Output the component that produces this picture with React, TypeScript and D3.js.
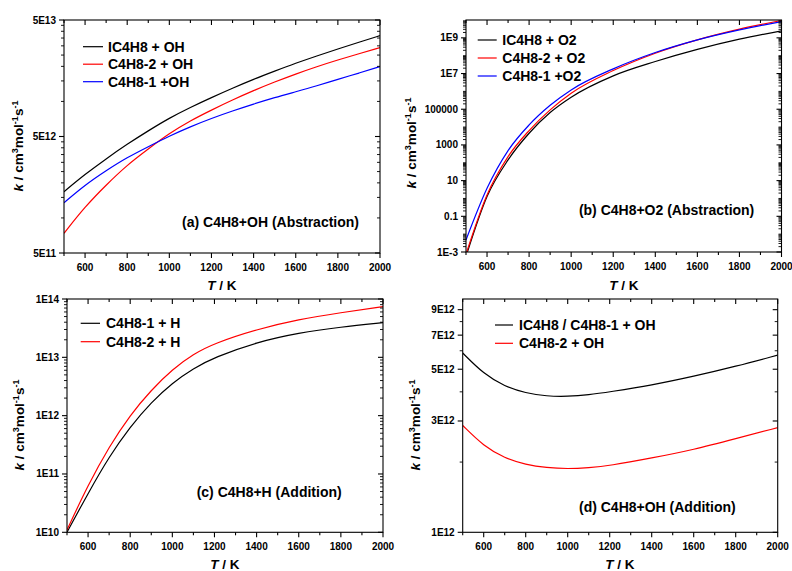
import React from 'react';
import * as d3 from 'd3';

const FONT = "'Liberation Sans', Arial, Helvetica, sans-serif";

// ---------- data ----------
const tempsA = [500, 600, 700, 800, 900, 1000, 1100, 1200, 1300, 1400, 1500, 1600, 1700, 1800, 1900, 2000];
const kA_IC4H8_OH = [1.68e12, 2.37e12, 3.22e12, 4.3e12, 5.6e12, 7.2e12, 8.9e12, 1.08e13, 1.3e13, 1.55e13, 1.82e13, 2.13e13, 2.46e13, 2.82e13, 3.22e13, 3.67e13];
const kA_C4H82_OH = [7.38e11, 1.25e12, 1.92e12, 2.85e12, 3.91e12, 5.32e12, 6.84e12, 8.44e12, 1.03e13, 1.24e13, 1.47e13, 1.72e13, 1.99e13, 2.27e13, 2.57e13, 2.9e13];
const kA_C4H81_OH = [1.35e12, 1.92e12, 2.55e12, 3.31e12, 4.09e12, 5.05e12, 6.07e12, 7.16e12, 8.28e12, 9.5e12, 1.08e13, 1.21e13, 1.36e13, 1.55e13, 1.75e13, 1.99e13];

const tempsB = [500, 600, 700, 800, 900, 1000, 1200, 1400, 1600, 1800, 2000];
const kB_IC4H8_O2 = [5.6e-4, 1.27, 144, 4.5e3, 6.5e4, 4.7e5, 7.4e6, 4.7e7, 2.25e8, 8.4e8, 2.47e9];
const kB_C4H82_O2 = [7.5e-4, 1.57, 222, 6.4e3, 9.2e4, 7.9e5, 1.47e7, 1.38e8, 7.7e8, 3.06e9, 9.4e9];
const kB_C4H81_O2 = [4.7e-3, 3.7, 481, 1.32e4, 1.67e5, 1.21e6, 1.83e7, 1.5e8, 7.7e8, 2.8e9, 8.2e9];

const tempsC = [500, 600, 700, 800, 900, 1000, 1100, 1200, 1400, 1600, 1800, 2000];
const kC_C4H81_H = [1.0e10, 4.67e10, 1.98e11, 6.47e11, 1.7e12, 3.64e12, 6.47e12, 1.0e13, 1.82e13, 2.63e13, 3.31e13, 3.93e13];
const kC_C4H82_H = [1.1e10, 6.47e10, 2.94e11, 1.03e12, 2.75e12, 6.22e12, 1.14e13, 1.74e13, 3.02e13, 4.48e13, 5.83e13, 7.4e13];

const tempsD = [500, 600, 700, 800, 900, 1000, 1100, 1200, 1400, 1600, 1800, 2000];
const kD_IC4H8_C4H81_OH = [5.87e12, 4.77e12, 4.22e12, 3.95e12, 3.83e12, 3.82e12, 3.88e12, 4.0e12, 4.27e12, 4.66e12, 5.14e12, 5.75e12];
const kD_C4H82_OH = [2.87e12, 2.34e12, 2.08e12, 1.95e12, 1.89e12, 1.87e12, 1.89e12, 1.93e12, 2.08e12, 2.26e12, 2.52e12, 2.81e12];

const xMajorTicks = [600, 800, 1000, 1200, 1400, 1600, 1800, 2000];
const xMinorTicks = [500, 700, 900, 1100, 1300, 1500, 1700, 1900];

const yTicksA = [5e11, 5e12, 5e13];
const yLabelsA = ['5E11', '5E12', '5E13'];
const yTicksB = [1e-3, 0.1, 10, 1000, 100000, 1e7, 1e9];
const yLabelsB = ['1E-3', '0.1', '10', '1000', '100000', '1E7', '1E9'];
const yTicksC = [1e10, 1e11, 1e12, 1e13, 1e14];
const yLabelsC = ['1E10', '1E11', '1E12', '1E13', '1E14'];
const yTicksD = [1e12, 3e12, 5e12, 7e12, 9e12];
const yLabelsD = ['1E12', '3E12', '5E12', '7E12', '9E12'];

const legendA = ['IC4H8 + OH', 'C4H8-2 + OH', 'C4H8-1 +OH'];
const legendB = ['IC4H8 + O2', 'C4H8-2 + O2', 'C4H8-1 +O2'];
const legendC = ['C4H8-1 + H', 'C4H8-2 + H'];
const legendD = ['IC4H8 / C4H8-1 + OH', 'C4H8-2 + OH'];

const titleA = '(a) C4H8+OH (Abstraction)';
const titleB = '(b) C4H8+O2 (Abstraction)';
const titleC = '(c) C4H8+H (Addition)';
const titleD = '(d) C4H8+OH (Addition)';

// ---------- minor tick helpers ----------
function multiplesOf(bases: number[], mults: number[]): number[] {
  const out: number[] = [];
  bases.forEach((b) => mults.forEach((m) => out.push(b * m)));
  return out;
}
const m29 = [2, 3, 4, 5, 6, 7, 8, 9];
const yMinorA = multiplesOf([5e11, 5e12], m29);
const yMinorB = (() => {
  const out: number[] = [];
  for (let n = -3; n <= 9; n++) {
    const b = Math.pow(10, n);
    if (n % 2 === 0) out.push(b);
    m29.forEach((m) => out.push(b * m));
  }
  return out;
})();
const yMinorC = multiplesOf([1e10, 1e11, 1e12, 1e13], m29);
const yMinorD = [2e12, 4e12, 6e12, 8e12];

const BLACK = '#000000';
const RED = '#ff0000';
const BLUE = '#0000ff';

interface Series { name: string; color: string; temps: number[]; values: number[]; }
interface PanelProps {
  id: string;
  x0: number; x1: number; yTop: number; yBot: number;
  yDomain: [number, number];
  yTicks: number[]; yLabels: string[]; yMinor: number[];
  series: Series[];
  smooth: boolean;
  legend: { lineX0: number; lineX1: number; textX: number; rows: number[] };
  title: { text: string; x: number; y: number };
  yTitle: { x: number; y: number };
  xTitle: { x: number; y: number };
}

function Panel(p: PanelProps) {
  const xs = d3.scaleLinear().domain([500, 2000]).range([p.x0, p.x1]);
  const ys = d3.scaleLog().domain(p.yDomain).range([p.yBot, p.yTop]);
  const line = d3.line<[number, number]>()
    .x((d) => xs(d[0]))
    .y((d) => ys(d[1]))
    .curve(p.smooth ? d3.curveBasis : d3.curveMonotoneX);
  const sw = 1.1;
  const inY = (v: number) => v >= p.yDomain[0] * 0.999 && v <= p.yDomain[1] * 1.001;
  return (
    <g>
      <defs>
        <clipPath id={`clip-${p.id}`}>
          <rect x={p.x0} y={p.yTop} width={p.x1 - p.x0} height={p.yBot - p.yTop} />
        </clipPath>
      </defs>
      <g clipPath={`url(#clip-${p.id})`}>
        {p.series.map((s) => (
          <path key={s.name} d={line(s.temps.map((t, i) => [t, s.values[i]] as [number, number])) || ''}
            fill="none" stroke={s.color} strokeWidth={1.2} />
        ))}
      </g>
      {/* frame */}
      <rect x={p.x0} y={p.yTop} width={p.x1 - p.x0} height={p.yBot - p.yTop} fill="none" stroke="#000" strokeWidth={sw} />
      {/* x ticks */}
      {xMajorTicks.map((t) => (
        <g key={`xM${t}`}>
          <line x1={xs(t)} x2={xs(t)} y1={p.yBot} y2={p.yBot + 5} stroke="#000" strokeWidth={sw} />
          <line x1={xs(t)} x2={xs(t)} y1={p.yTop} y2={p.yTop + 5} stroke="#000" strokeWidth={sw} />
          <text x={xs(t)} y={p.yBot + 17.5} textAnchor="middle" fontSize={10} fontWeight="bold" fontFamily={FONT}>{t}</text>
        </g>
      ))}
      {xMinorTicks.map((t) => (
        <g key={`xm${t}`}>
          <line x1={xs(t)} x2={xs(t)} y1={p.yBot} y2={p.yBot + 3} stroke="#000" strokeWidth={sw} />
          <line x1={xs(t)} x2={xs(t)} y1={p.yTop} y2={p.yTop + 3} stroke="#000" strokeWidth={sw} />
        </g>
      ))}
      {/* y ticks */}
      {p.yTicks.map((t, i) => (
        <g key={`yM${i}`}>
          <line x1={p.x0 - 5} x2={p.x0} y1={ys(t)} y2={ys(t)} stroke="#000" strokeWidth={sw} />
          <line x1={p.x1 - 5} x2={p.x1} y1={ys(t)} y2={ys(t)} stroke="#000" strokeWidth={sw} />
          <text x={p.x0 - 8} y={ys(t) + 3.5} textAnchor="end" fontSize={10} fontWeight="bold" fontFamily={FONT}>{p.yLabels[i]}</text>
        </g>
      ))}
      {p.yMinor.filter(inY).map((t, i) => (
        <g key={`ym${i}`}>
          <line x1={p.x0 - 3} x2={p.x0} y1={ys(t)} y2={ys(t)} stroke="#000" strokeWidth={0.9} />
          <line x1={p.x1 - 3} x2={p.x1} y1={ys(t)} y2={ys(t)} stroke="#000" strokeWidth={0.9} />
        </g>
      ))}
      {/* legend */}
      {p.series.map((s, i) => (
        <g key={`lg${i}`}>
          <line x1={p.legend.lineX0} x2={p.legend.lineX1} y1={p.legend.rows[i]} y2={p.legend.rows[i]} stroke={s.color} strokeWidth={1.2} />
          <text x={p.legend.textX} y={p.legend.rows[i] + 5} fontSize={14} fontWeight="bold" fontFamily={FONT}>{s.name}</text>
        </g>
      ))}
      {/* annotation */}
      <text x={p.title.x} y={p.title.y} textAnchor="end" fontSize={14} fontWeight="bold" fontFamily={FONT}>{p.title.text}</text>
      {/* y title */}
      <text transform={`translate(${p.yTitle.x},${p.yTitle.y}) rotate(-90)`} textAnchor="middle" fontSize={13.5} fontWeight="bold" fontFamily={FONT}>
        <tspan fontStyle="italic">k</tspan>
        <tspan> / cm</tspan>
        <tspan fontSize={9} dy={-5}>3</tspan>
        <tspan dy={5}>mol</tspan>
        <tspan fontSize={9} dy={-5}>-1</tspan>
        <tspan dy={5}>s</tspan>
        <tspan fontSize={9} dy={-5}>-1</tspan>
      </text>
      {/* x title */}
      <text x={p.xTitle.x} y={p.xTitle.y} textAnchor="middle" fontSize={13.5} fontWeight="bold" fontFamily={FONT}>
        <tspan fontStyle="italic">T</tspan>
        <tspan> / K</tspan>
      </text>
    </g>
  );
}

export default function App() {
  return (
    <svg width={792} height={571} viewBox="0 0 792 571"
      style={{ position: 'absolute', left: 0, top: 0, background: '#fff' }}>
      <rect x={0} y={0} width={792} height={571} fill="#fff" />
      <Panel
        id="a" x0={64} x1={380} yTop={20} yBot={253}
        yDomain={[5e11, 5e13]} yTicks={yTicksA} yLabels={yLabelsA} yMinor={yMinorA}
        smooth={true}
        series={[
          { name: legendA[0], color: BLACK, temps: tempsA, values: kA_IC4H8_OH },
          { name: legendA[1], color: RED, temps: tempsA, values: kA_C4H82_OH },
          { name: legendA[2], color: BLUE, temps: tempsA, values: kA_C4H81_OH },
        ]}
        legend={{ lineX0: 83, lineX1: 103, textX: 108, rows: [46.7, 64.2, 81.7] }}
        title={{ text: titleA, x: 359, y: 226.5 }}
        yTitle={{ x: 23, y: 146 }}
        xTitle={{ x: 222, y: 290 }}
      />
      <Panel
        id="b" x0={466} x1={781.5} yTop={20} yBot={252}
        yDomain={[1e-3, 1e10]} yTicks={yTicksB} yLabels={yLabelsB} yMinor={yMinorB}
        smooth={false}
        series={[
          { name: legendB[0], color: BLACK, temps: tempsB, values: kB_IC4H8_O2 },
          { name: legendB[1], color: RED, temps: tempsB, values: kB_C4H82_O2 },
          { name: legendB[2], color: BLUE, temps: tempsB, values: kB_C4H81_O2 },
        ]}
        legend={{ lineX0: 477.7, lineX1: 496.7, textX: 502.3, rows: [40, 58, 76] }}
        title={{ text: titleB, x: 754.3, y: 215 }}
        yTitle={{ x: 416, y: 143 }}
        xTitle={{ x: 624, y: 290 }}
      />
      <Panel
        id="c" x0={67} x1={383} yTop={299} yBot={532.3}
        yDomain={[1e10, 1e14]} yTicks={yTicksC} yLabels={yLabelsC} yMinor={yMinorC}
        smooth={true}
        series={[
          { name: legendC[0], color: BLACK, temps: tempsC, values: kC_C4H81_H },
          { name: legendC[1], color: RED, temps: tempsC, values: kC_C4H82_H },
        ]}
        legend={{ lineX0: 80.7, lineX1: 100, textX: 106, rows: [323.3, 341.7] }}
        title={{ text: titleC, x: 341.7, y: 496.7 }}
        yTitle={{ x: 24, y: 425 }}
        xTitle={{ x: 225, y: 568.5 }}
      />
      <Panel
        id="d" x0={462.7} x1={777.7} yTop={299} yBot={532.3}
        yDomain={[1e12, 1e13]} yTicks={yTicksD} yLabels={yLabelsD} yMinor={yMinorD}
        smooth={true}
        series={[
          { name: legendD[0], color: BLACK, temps: tempsD, values: kD_IC4H8_C4H81_OH },
          { name: legendD[1], color: RED, temps: tempsD, values: kD_C4H82_OH },
        ]}
        legend={{ lineX0: 495, lineX1: 513, textX: 519, rows: [325, 343.3] }}
        title={{ text: titleD, x: 735.7, y: 511.7 }}
        yTitle={{ x: 420, y: 425 }}
        xTitle={{ x: 620, y: 568.5 }}
      />
    </svg>
  );
}
